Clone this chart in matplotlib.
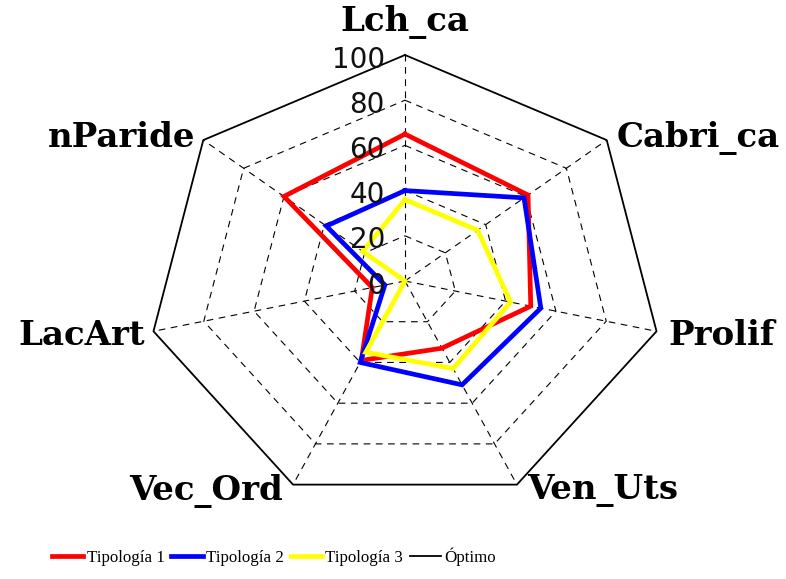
import numpy as np
import matplotlib
matplotlib.use("Agg")
import matplotlib.pyplot as plt
from matplotlib.lines import Line2D

# ---- data ----
categories = ["Lch_ca", "Cabri_ca", "Prolif", "Ven_Uts", "Vec_Ord", "LacArt", "nParide"]
tipologia_1 = [65, 61, 50, 33, 39, 13, 60]
tipologia_2 = [40, 59, 54, 51, 40, 8, 39]
tipologia_3 = [36, 36, 42, 43, 35, 0, 21]
optimo = [100, 100, 100, 100, 100, 100, 100]
radial_ticks = [0, 20, 40, 60, 80, 100]
series_names = ["Tipología 1", "Tipología 2", "Tipología 3", "Óptimo"]

# ---- geometry ----
n = len(categories)
theta = np.pi / 2 - np.arange(n) * 2 * np.pi / n

def xy(vals):
    v = np.asarray(vals, dtype=float) / 100.0
    x = v * np.cos(theta)
    y = v * np.sin(theta)
    return np.append(x, x[0]), np.append(y, y[0])

fig = plt.figure(figsize=(7.86, 5.79), dpi=100)
ax = fig.add_axes([0, 0, 1, 1])
ax.set_xlim(-405 / 258, (786 - 405) / 258)
ax.set_ylim(-(579 - 281) / 226, 281 / 226)
ax.set_aspect("auto")
ax.axis("off")

# grid rings
for r in radial_ticks[1:-1]:
    gx, gy = xy([r] * n)
    ax.plot(gx, gy, color="black", lw=0.8, ls=(0, (6, 5)), zorder=1)
# spokes
for t in theta:
    ax.plot([0, np.cos(t)], [0, np.sin(t)], color="black", lw=0.8, ls=(0, (6, 5)), zorder=1)

# series
colors = ["#ff0000", "#0000ff", "#ffff00"]
for vals, c in zip([tipologia_1, tipologia_2, tipologia_3], colors):
    px, py = xy(vals)
    ax.plot(px, py, color=c, lw=3.4, solid_joinstyle="miter", zorder=3)
ox, oy = xy(optimo)
ax.plot(ox, oy, color="black", lw=1.3, zorder=2)

# radial tick labels
for r in radial_ticks:
    ax.text(-0.078, r / 100 - 0.02, str(r), ha="right", va="center",
            fontsize=20, family="DejaVu Sans", color="#111111", zorder=4)

# category labels
label_pos = [
    (0.0, 1.146, "center"),
    (0.822, 0.633, "left"),
    (1.019, -0.239, "left"),
    (0.473, -0.929, "left"),
    (-0.473, -0.929, "right"),
    (-1.008, -0.239, "right"),
    (-0.814, 0.633, "right"),
]
for name, (lx, ly, ha) in zip(categories, label_pos):
    ax.text(lx, ly, name, ha=ha, va="center", fontsize=24.5,
            family="DejaVu Serif", fontweight="bold")

# legend
handles = [Line2D([], [], color=c, lw=3.4) for c in colors]
handles.append(Line2D([], [], color="black", lw=1.3))
leg = fig.legend(handles, series_names, loc="center", bbox_to_anchor=(274 / 786, 1 - 557 / 579),
                 ncol=4, frameon=False, prop={"family": "Liberation Serif", "size": 12.2},
                 handlelength=1.85, handletextpad=0.2, columnspacing=0.4)

fig.savefig("out.png", dpi=100)
